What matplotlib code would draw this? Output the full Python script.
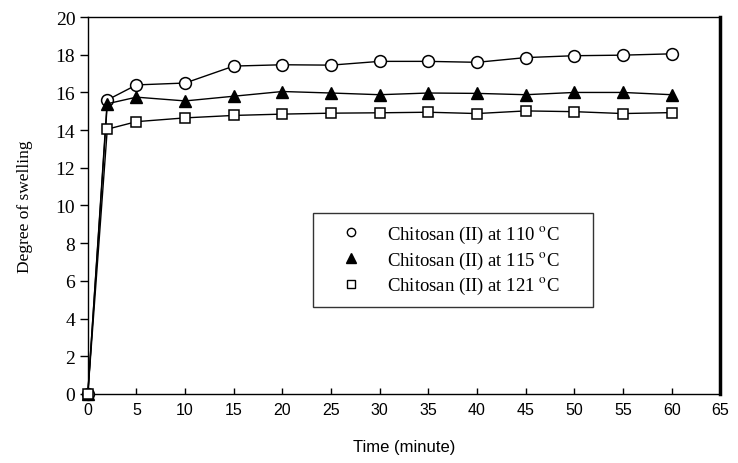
import matplotlib.pyplot as plt
from matplotlib.lines import Line2D

plt.rcParams['mathtext.fontset'] = 'stix'

time = [0, 2, 5, 10, 15, 20, 25, 30, 35, 40, 45, 50, 55, 60]
swell_110 = [0, 15.6, 16.4, 16.5, 17.4, 17.47, 17.45, 17.65, 17.65, 17.6, 17.85, 17.95, 17.98, 18.05]
swell_115 = [0, 15.4, 15.75, 15.55, 15.8, 16.05, 15.97, 15.88, 15.97, 15.95, 15.88, 16.0, 16.0, 15.88]
swell_121 = [0, 14.05, 14.45, 14.65, 14.78, 14.85, 14.9, 14.92, 14.95, 14.88, 15.02, 14.98, 14.88, 14.93]
labels = ['Chitosan (II) at 110 $^{\\rm o}$C',
          'Chitosan (II) at 115 $^{\\rm o}$C',
          'Chitosan (II) at 121 $^{\\rm o}$C']

serif = ['Liberation Serif', 'DejaVu Serif']
narrow = ['Liberation Sans Narrow', 'Liberation Sans', 'DejaVu Sans']

fig = plt.figure(figsize=(7.38, 4.64), dpi=100)
ax = fig.add_axes([0.119, 0.149, 0.857, 0.812])

ax.plot(time, swell_110, color='black', lw=1, marker='o', ms=8.5,
        mfc='white', mec='black', mew=1.1, zorder=3, clip_on=False)
ax.plot(time, swell_115, color='black', lw=1, marker='^', ms=8,
        mfc='black', mec='black', zorder=3, clip_on=False)
ax.plot(time, swell_121, color='black', lw=1, marker='s', ms=7.5,
        mfc='white', mec='black', mew=1.1, zorder=4, clip_on=False)

ax.set_xlim(0, 65)
ax.set_ylim(0, 20)
ax.set_xticks(range(0, 66, 5))
ax.set_yticks(range(0, 21, 2))

for s in ['left', 'bottom', 'top']:
    ax.spines[s].set_linewidth(1.0)
ax.spines['right'].set_linewidth(2.5)

ax.tick_params(axis='x', direction='in', length=4, width=1, pad=6)
ax.tick_params(axis='y', direction='out', length=6, width=1, pad=3)
for t in ax.get_xticklabels():
    t.set_family(narrow)
    t.set_fontsize(11.5)
for t in ax.get_yticklabels():
    t.set_family(serif)
    t.set_fontsize(14)

ax.set_xlabel('Time (minute)', family=narrow, fontsize=12, labelpad=16)
ax.set_ylabel('Degree of swelling', family=serif, fontsize=12.5, labelpad=16)

handles = [
    Line2D([], [], ls='none', marker='o', ms=6, mfc='white', mec='black'),
    Line2D([], [], ls='none', marker='^', ms=7, mfc='black', mec='black'),
    Line2D([], [], ls='none', marker='s', ms=6, mfc='white', mec='black'),
]
leg = ax.legend(handles, labels, loc='upper left',
                bbox_to_anchor=(0.356, 0.231, 0.443, 0.248), mode='expand',
                borderaxespad=0, frameon=True, fancybox=False, handlelength=3.0,
                handletextpad=0.4, borderpad=0.55, labelspacing=0.25,
                prop={'family': serif, 'size': 13.5})
leg.get_frame().set_edgecolor('black')
leg.get_frame().set_linewidth(1.0)

fig.savefig('out.png', dpi=100)
